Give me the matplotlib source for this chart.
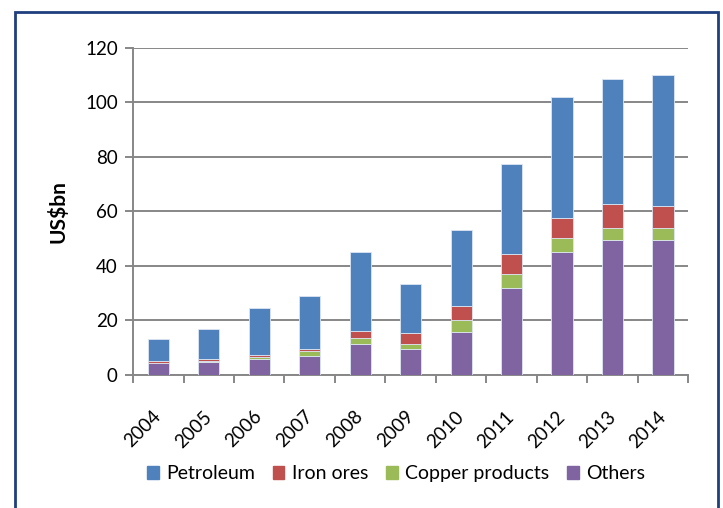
import numpy as np
import matplotlib
matplotlib.use('Agg')
import matplotlib.pyplot as plt
from matplotlib.patches import Patch, Rectangle

plt.rcParams['font.family'] = ['Lato', 'DejaVu Sans']

# Data (US$bn)
years = ['2004', '2005', '2006', '2007', '2008', '2009', '2010', '2011', '2012', '2013', '2014']
others = [4.2, 4.8, 5.8, 7.1, 11.5, 9.4, 15.9, 32.0, 45.1, 49.5, 49.5]
copper = [0.2, 0.2, 0.8, 1.7, 2.2, 2.1, 4.4, 5.2, 5.2, 4.4, 4.4]
iron = [0.6, 0.8, 0.6, 0.6, 2.3, 3.8, 5.1, 7.3, 7.3, 8.7, 8.0]
petroleum = [8.1, 11.0, 17.5, 19.7, 29.1, 18.2, 27.8, 32.8, 44.5, 46.0, 48.2]

series = [('Others', others, '#8064A2'),
          ('Copper products', copper, '#9BBB59'),
          ('Iron ores', iron, '#C0504D'),
          ('Petroleum', petroleum, '#4F81BD')]

fig = plt.figure(figsize=(7.23, 5.08), dpi=100)
ax = fig.add_axes([0.184, 0.262, 0.768, 0.6435])

x = np.arange(len(years))
bottom = np.zeros(len(years))
for name, vals, col in series:
    ax.bar(x, vals, width=0.42, bottom=bottom, color=col,
           edgecolor='#dce6f2', linewidth=0.6, zorder=3)
    bottom += np.array(vals)

# axes styling
grid_col = '#878787'
ax.set_ylim(0, 120)
ax.set_yticks(range(0, 121, 20))
ax.set_xlim(-0.5, len(years) - 0.5)
ax.yaxis.grid(True, color=grid_col, linewidth=1.4, zorder=0)
for s in ['top', 'right']:
    ax.spines[s].set_visible(False)
for s in ['left', 'bottom']:
    ax.spines[s].set_color(grid_col)
    ax.spines[s].set_linewidth(1.4)
ax.tick_params(axis='y', colors=grid_col, length=6, width=1.4, labelcolor='black',
               labelsize=13.5, pad=5)
ax.set_xticks(x)
ax.set_xticklabels(years, rotation=45, ha='right', va='center',
                   rotation_mode='anchor', fontsize=13.5)
ax.tick_params(axis='x', length=0, pad=28)
ax.set_xticks(np.arange(-0.5, len(years)), minor=True)
ax.tick_params(axis='x', which='minor', colors=grid_col, length=6, width=1.4)
ax.set_ylabel('US$bn', fontsize=15, fontweight='bold', labelpad=12)

# legend
handles = [Patch(color=c, label=n) for n, v, c in series[::-1]]
fig.legend(handles=handles, loc='center', bbox_to_anchor=(0.548, 0.067), ncol=4,
           frameon=False, fontsize=14, handlelength=0.6, handleheight=0.6,
           handletextpad=0.4, columnspacing=0.9)

# navy frame around the chart
fig.patches.append(Rectangle((15 / 723, -0.05), 703 / 723, 1.05 - 12 / 508,
                             transform=fig.transFigure, fill=False,
                             edgecolor='#1F3F7F', linewidth=2))

fig.savefig('out.png', dpi=100)
